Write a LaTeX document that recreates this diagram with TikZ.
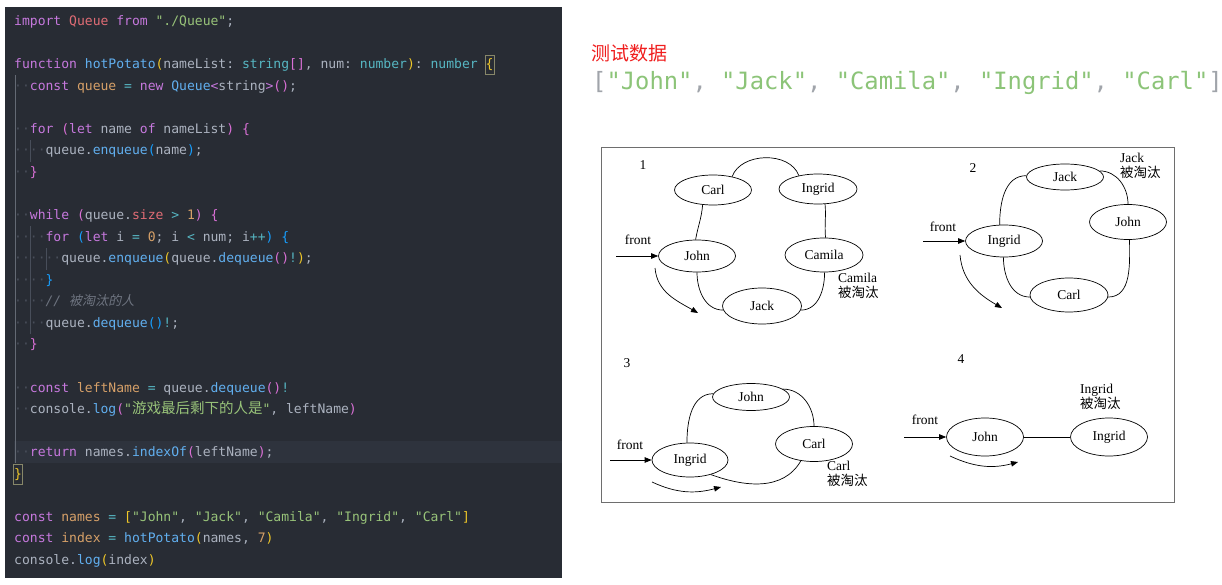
\documentclass[tikz,border=0pt]{standalone}
\usepackage{fontspec}
\usetikzlibrary{shapes.geometric,arrows.meta}
\setmainfont{Liberation Serif}
\newfontfamily\codefont{DejaVu Sans Mono}
\newfontfamily\cjk{Noto Sans CJK SC}
\newfontfamily\cjkslant{Noto Sans CJK SC}[FakeSlant=0.2]

\definecolor{codebg}{RGB}{40,44,52}
\definecolor{curline}{RGB}{46,51,61}
\definecolor{txt}{RGB}{171,178,191}
\definecolor{kw}{RGB}{198,120,221}
\definecolor{fn}{RGB}{97,175,239}
\definecolor{strg}{RGB}{152,195,121}
\definecolor{vari}{RGB}{214,160,104}
\definecolor{op}{RGB}{86,182,194}
\definecolor{redv}{RGB}{224,108,117}
\definecolor{cmt}{RGB}{110,116,128}
\definecolor{brY}{RGB}{240,200,40}
\definecolor{brP}{RGB}{218,112,214}
\definecolor{brB}{RGB}{23,159,255}
\definecolor{wsdot}{RGB}{72,78,90}
\definecolor{guide}{RGB}{100,106,116}
\definecolor{matchbox}{RGB}{135,135,105}
\definecolor{hdred}{RGB}{240,30,30}
\definecolor{hdgray}{RGB}{160,164,170}
\definecolor{hdgreen}{RGB}{140,196,120}
\definecolor{boxgray}{RGB}{110,110,110}

\newcommand\ckw[1]{\textcolor{kw}{#1}}
\newcommand\cfn[1]{\textcolor{fn}{#1}}
\newcommand\cstr[1]{\textcolor{strg}{#1}}
\newcommand\cvar[1]{\textcolor{vari}{#1}}
\newcommand\cop[1]{\textcolor{op}{#1}}
\newcommand\cred[1]{\textcolor{redv}{#1}}
\newcommand\ctype[1]{\textcolor{op}{#1}}
\newcommand\ccm[1]{\textcolor{cmt}{#1}}
\newcommand\cws[1]{\textcolor{wsdot}{#1}}
\newcommand\cbY[1]{\textcolor{brY}{#1}}
\newcommand\cbP[1]{\textcolor{brP}{#1}}
\newcommand\cbB[1]{\textcolor{brB}{#1}}

\begin{document}
\begin{tikzpicture}[x=1pt,y=-1pt,
  codeline/.style={anchor=base west,inner sep=0pt,text=txt,font=\codefont\fontsize{13.05}{15}\selectfont\frenchspacing},
  person/.style={ellipse,draw,line width=0.7pt,minimum width=77pt,minimum height=32pt,inner sep=1pt,font=\fontsize{13.5}{15}\selectfont},
  link/.style={line width=0.7pt},
  ptr/.style={line width=0.7pt,-{Triangle[length=7pt,width=5.5pt]}},
  tag/.style={inner sep=0pt,font=\fontsize{13.5}{15}\selectfont},
  gone/.style={tag,anchor=north west,align=left}]
\useasboundingbox (0,0) rectangle (1222,585);
\fill[white] (0,0) rectangle (1222,585);

%Shape: Editor panel
\fill[codebg] (5,7) rectangle (562,578);
\fill[curline] (14,441) rectangle (562,463);
\draw[line width=0.8pt,guide] (15,75) -- (15,463);
\draw[line width=0.5pt,wsdot] (30,140) -- (30,162);
\draw[line width=0.5pt,wsdot] (30,226) -- (30,334);
\draw[line width=0.5pt,wsdot] (46,248) -- (46,270);
\draw[line width=0.6pt,matchbox] (485.5,55) rectangle (494,74);
\draw[line width=0.6pt,matchbox] (13,464) rectangle (22,484);

% Code lines
\node[codeline] (l1) at (14,25.5) {\ckw{import} \cred{Queue} \ckw{from} \cstr{"./Queue"};};
\node[codeline] (l3) at (14,68.6) {\ckw{function} \cfn{hotPotato}\cbY{(}nameList: \ctype{string}\cbP{[]}, num: \ctype{number}\cbY{)}: \ctype{number} \cbY{\{}};
\node[codeline] (l4) at (14,90.2) {\cws{··}\ckw{const} \cvar{queue} \cop{=} \ckw{new} \cfn{Queue}\ckw{<}string\ckw{>}\cbP{()};};
\node[codeline] (l6) at (14,133.3) {\cws{··}\ckw{for} \cbP{(}\ckw{let} name \ckw{of} nameList\cbP{)} \cbP{\{}};
\node[codeline] (l7) at (14,154.9) {\cws{····}queue.\cfn{enqueue}\cbB{(}name\cbB{)};};
\node[codeline] (l8) at (14,176.4) {\cws{··}\cbP{\}}};
\node[codeline] (l10) at (14,219.5) {\cws{··}\ckw{while} \cbP{(}queue.\cred{size} \cop{>} \cvar{1}\cbP{)} \cbP{\{}};
\node[codeline] (l11) at (14,241.1) {\cws{····}\ckw{for} \cbB{(}\ckw{let} i \cop{=} \cvar{0}; i \cop{<} num; i\cop{++}\cbB{)} \cbB{\{}};
\node[codeline] (l12) at (14,262.7) {\cws{······}queue.\cfn{enqueue}\cbY{(}queue.\cfn{dequeue}\cbP{()}\cop{!}\cbY{)};};
\node[codeline] (l13) at (14,284.2) {\cws{····}\cbB{\}}};
\node[codeline] (l14) at (14,305.8) {\cws{····}\ccm{\itshape// {\cjkslant 被淘汰的人}}};
\node[codeline] (l15) at (14,327.3) {\cws{····}queue.\cfn{dequeue}\cbB{()}\cop{!};};
\node[codeline] (l16) at (14,348.9) {\cws{··}\cbP{\}}};
\node[codeline] (l18) at (14,392.0) {\cws{··}\ckw{const} \cvar{leftName} \cop{=} queue.\cfn{dequeue}\cbP{()}\cop{!}};
\node[codeline] (l19) at (14,413.6) {\cws{··}console.\cfn{log}\cbP{(}\cstr{"{\cjk\fontsize{14.5}{15}\selectfont 游戏最后剩下的人是}"}, leftName\cbP{)}};
\node[codeline] (l21) at (14,456.7) {\cws{··}\ckw{return} names.\cfn{indexOf}\cbP{(}leftName\cbP{)};};
\node[codeline] (l22) at (14,478.3) {\cbY{\}}};
\node[codeline] (l24) at (14,521.4) {\ckw{const} \cvar{names} \cop{=} \cbY{[}\cstr{"John"}, \cstr{"Jack"}, \cstr{"Camila"}, \cstr{"Ingrid"}, \cstr{"Carl"}\cbY{]}};
\node[codeline] (l25) at (14,542.9) {\ckw{const} \cvar{index} \cop{=} \cfn{hotPotato}\cbY{(}names, \cvar{7}\cbY{)}};
\node[codeline] (l26) at (14,564.5) {console.\cfn{log}\cbY{(}index\cbY{)}};

% Text Node: test data
\node[anchor=west,inner sep=0pt,text=hdred,font=\cjk\fontsize{19}{21}\selectfont] (title) at (591,53) {测试数据};
\node[anchor=west,inner sep=0pt,text=hdgray,font=\codefont\fontsize{23.8}{26}\selectfont\frenchspacing] (data) at (592,83) {[\textcolor{hdgreen}{"John"}, \textcolor{hdgreen}{"Jack"}, \textcolor{hdgreen}{"Camila"}, \textcolor{hdgreen}{"Ingrid"}, \textcolor{hdgreen}{"Carl"}]};

%Shape: Rectangle
\draw[line width=1pt,boxgray] (601,148) rectangle (1174,502);

% Round 1
\node[tag] (n1) at (643,165) {1};
\node[person,minimum height=30pt] (carl1) at (713,190) {Carl};
\node[person,minimum height=30pt,minimum width=78pt] (ingrid1) at (818,189) {Ingrid};
\node[person] (john1) at (697,256) {John};
\node[person,minimum height=34pt,minimum width=78pt] (camila1) at (824,255) {Camila};
\node[person,minimum height=36pt,minimum width=79pt] (jack1) at (762,306) {Jack};
\draw[link] (carl1.35) to[out=70,in=110] (ingrid1.145);
\draw[link] (carl1.235) to[out=265,in=80] (john1.95);
\draw[link] (ingrid1.295) to[out=275,in=95] (camila1.85);
\draw[link] (john1.270) to[out=270,in=180] (jack1.186);
\draw[link] (camila1.272) to[out=270,in=0] (jack1.354);
\node[tag] (front1) at (638,240) {front};
\coordinate (f1) at (616,256);
\draw[ptr] (f1) -- (john1.west);
\coordinate (r1s) at (655,268);
\coordinate (r1e) at (698,313);
\draw[ptr] (r1s) to[out=-85,in=150] (r1e);
\node[gone] (out1) at (838,273) {Camila\\{\cjk 被淘汰}};

% Round 2
\node[tag] (n2) at (973,168) {2};
\node[person,minimum height=26pt] (jack2) at (1065,177) {Jack};
\node[person,minimum height=35pt] (john2) at (1128,222) {John};
\node[person] (ingrid2) at (1004,241) {Ingrid};
\node[person,minimum height=34pt,minimum width=78pt] (carl2) at (1069,295) {Carl};
\draw[link] (ingrid2.105) to[out=90,in=180] (jack2.178);
\draw[link] (jack2.10) to[out=0,in=90] (john2.90);
\draw[link] (john2.275) to[out=270,in=0] (carl2.357);
\draw[link] (ingrid2.268) to[out=270,in=180] (carl2.183);
\node[tag] (front2) at (943,227) {front};
\coordinate (f2) at (923,241);
\draw[ptr] (f2) -- (ingrid2.west);
\coordinate (r2s) at (960,255);
\coordinate (r2e) at (1002,308);
\draw[ptr] (r2s) to[out=-85,in=150] (r2e);
\node[gone] (out2) at (1120,153) {Jack\\{\cjk 被淘汰}};

% Round 3
\node[tag] (n3) at (627,363) {3};
\node[person,minimum height=27pt] (john3) at (751,397) {John};
\node[person,minimum height=35pt] (carl3) at (814,444) {Carl};
\node[person,minimum height=34pt,minimum width=76pt] (ingrid3) at (690,460) {Ingrid};
\draw[link] (ingrid3.100) to[out=90,in=180] (john3.175);
\draw[link] (john3.14) to[out=0,in=90] (carl3.90);
\draw[link] (carl3.232) to[out=240,in=-20] (ingrid3.325);
\node[tag] (front3) at (630,445) {front};
\coordinate (f3) at (610,460);
\draw[ptr] (f3) -- (ingrid3.west);
\coordinate (r3s) at (652,482);
\coordinate (r3e) at (721,487);
\draw[ptr] (r3s) to[out=-25,in=195] (r3e);
\node[gone] (out3) at (827,461) {Carl\\{\cjk 被淘汰}};

% Round 4
\node[tag] (n4) at (961,359) {4};
\node[person,minimum height=38pt] (john4) at (985,437) {John};
\node[person,minimum height=38pt] (ingrid4) at (1109,437) {Ingrid};
\draw[link] (john4.east) -- (ingrid4.west);
\node[tag] (front4) at (925,420) {front};
\coordinate (f4) at (904,437);
\draw[ptr] (f4) -- (john4.west);
\coordinate (r4s) at (950,456);
\coordinate (r4e) at (1018,462);
\draw[ptr] (r4s) to[out=-25,in=195] (r4e);
\node[gone] (out4) at (1080,384) {Ingrid\\{\cjk 被淘汰}};

\end{tikzpicture}
\end{document}
